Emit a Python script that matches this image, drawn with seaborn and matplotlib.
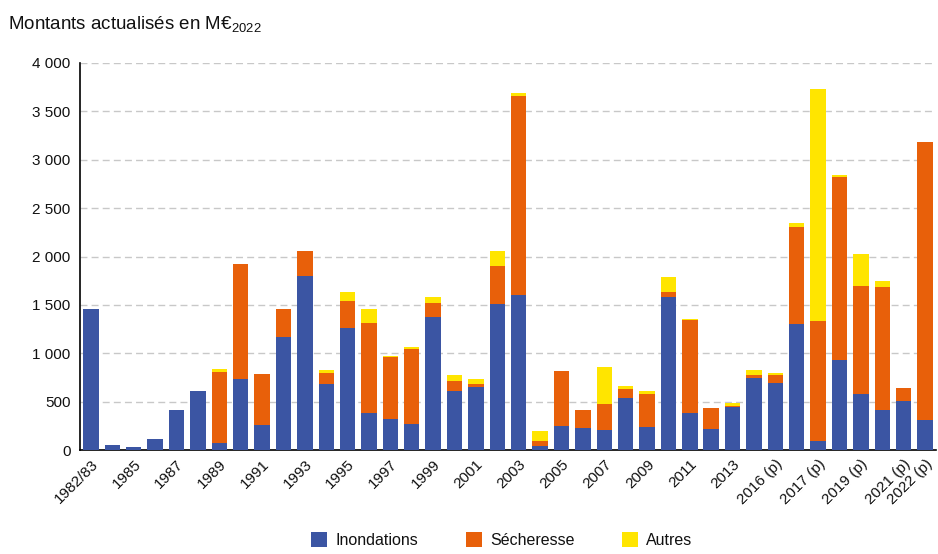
import numpy as np
import pandas as pd
import matplotlib
matplotlib.use("Agg")
import matplotlib.pyplot as plt
import seaborn as sns
from matplotlib.patches import Patch

# ----------------------------------
# Data (M€ 2022)
# ----------------------------------

years = ["1982/83"] + [str(y) for y in range(1984, 2023)]

tick_labels = [
    "1982/83", "", "1985", "", "1987", "", "1989", "", "1991", "",
    "1993", "", "1995", "", "1997", "", "1999", "", "2001", "",
    "2003", "", "2005", "", "2007", "", "2009", "", "2011", "",
    "2013", "", "2016 (p)", "", "2017 (p)", "", "2019 (p)", "", "2021 (p)", "2022 (p)",
]

inondations = [
    1460, 50, 30, 110, 410, 610, 70, 730, 260, 1170,
    1800, 680, 1260, 385, 320, 270, 1370, 610, 655, 1505,
    1600, 40, 250, 225, 205, 540, 240, 1585, 380, 215,
    440, 745, 690, 1300, 95, 935, 575, 415, 505, 310,
]

secheresse = [
    0, 0, 0, 0, 0, 0, 740, 1190, 530, 285,
    260, 120, 275, 925, 640, 775, 145, 105, 25, 400,
    2060, 55, 570, 190, 270, 90, 340, 50, 965, 220,
    15, 30, 90, 1010, 1240, 1890, 1120, 1265, 140, 2870,
]

autres = [
    0, 0, 0, 0, 0, 0, 25, 0, 0, 0,
    0, 25, 95, 145, 10, 20, 70, 60, 55, 150,
    30, 100, 0, 0, 385, 35, 25, 150, 12, 0,
    35, 50, 20, 35, 2395, 20, 330, 70, 0, 0,
]

series_names = ["Inondations", "Sécheresse", "Autres"]
colors = ["#3b55a3", "#e8600a", "#ffe500"]

df = pd.DataFrame({
    "annee": years,
    "Inondations": inondations,
    "Sécheresse": secheresse,
    "Autres": autres,
})

# cumulative heights for stacked look
df["cum1"] = df["Inondations"]
df["cum2"] = df["cum1"] + df["Sécheresse"]
df["cum3"] = df["cum2"] + df["Autres"]

# ----------------------------------
# Plot
# ----------------------------------

sns.set_style("white")
plt.rcParams["font.family"] = ["Liberation Sans", "DejaVu Sans"]
plt.rcParams["mathtext.fontset"] = "custom"
plt.rcParams["mathtext.rm"] = "Liberation Sans"
plt.rcParams["text.color"] = "#111111"

fig = plt.figure(figsize=(9.38, 5.54), dpi=100)
ax = fig.add_axes([0.0856, 0.1877, 0.912, 0.6986])

for col, c in zip(["cum3", "cum2", "cum1"], colors[::-1]):
    sns.barplot(
        data=df,
        x="annee",
        y=col,
        order=years,
        color=c,
        saturation=1,
        width=0.72,
        errorbar=None,
        linewidth=0,
        ax=ax,
        zorder=3,
    )

ax.set_xlim(-0.5, len(years) - 0.5)
ax.set_ylim(0, 4000)
ax.set_yticks(np.arange(0, 4001, 500))
ax.set_yticklabels([f"{v:,}".replace(",", " ") for v in range(0, 4001, 500)],
                   fontsize=11, color="#111111")

ax.set_xticks(range(len(years)))
ax.set_xticklabels(tick_labels, rotation=45, ha="right", va="top",
                   rotation_mode="anchor", fontsize=11, color="#111111")
ax.set_xticks(np.arange(-0.5, len(years), 1), minor=True)
ax.tick_params(axis="x", which="major", length=0, pad=5)
ax.tick_params(axis="x", which="minor", length=4, width=1, color="black",
               direction="out")
ax.tick_params(axis="y", length=4, width=1, color="black", direction="out", pad=3)

ax.set_xlabel("")
ax.set_ylabel("")

ax.grid(axis="y", linestyle=(0, (5, 3)), color="#c8c8c8", linewidth=1, zorder=0)
ax.grid(axis="x", visible=False)

for s in ["top", "right"]:
    ax.spines[s].set_visible(False)
for s in ["left", "bottom"]:
    ax.spines[s].set_color("black")
    ax.spines[s].set_linewidth(1.2)

fig.text(0.009, 0.955, "Montants actualisés en M€$_{2022}$", fontsize=13.5,
         ha="left", va="center")

handles = [Patch(facecolor=c, edgecolor="none") for c in colors]
fig.legend(handles, series_names, loc="center", bbox_to_anchor=(0.535, 0.025),
           ncol=3, frameon=False, fontsize=11.5, handlelength=1.0,
           handleheight=1.0, columnspacing=3.0, handletextpad=0.5)

fig.savefig("out.png", dpi=100)
plt.close(fig)
